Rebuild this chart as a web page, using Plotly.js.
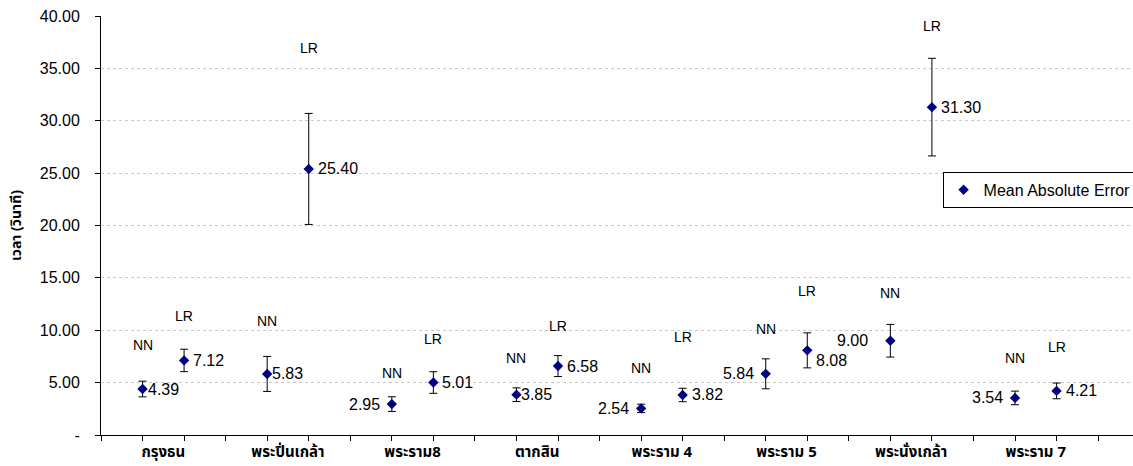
<!DOCTYPE html>
<html>
<head>
<meta charset="utf-8">
<script src="https://cdn.plot.ly/plotly-3.0.1.min.js"></script>
<style>html,body{margin:0;padding:0;background:#fff;}#chart{width:1133px;height:466px;}</style>
</head>
<body>
<div id="chart"></div>
<script>
// ---- data ----
const categories = ["กรุงธน", "พระปิ่นเกล้า", "พระราม8", "ตากสิน", "พระราม 4", "พระราม 5", "พระนั่งเกล้า", "พระราม 7"];
const methods = ["NN", "LR"];
const nnValues = [4.39, 5.83, 2.95, 3.85, 2.54, 5.84, 9.00, 3.54];
const lrValues = [7.12, 25.40, 5.01, 6.58, 3.82, 8.08, 31.30, 4.21];
const nnErrors = [0.75, 1.67, 0.70, 0.65, 0.40, 1.43, 1.56, 0.65];
const lrErrors = [1.07, 5.30, 1.03, 1.00, 0.64, 1.67, 4.66, 0.75];
const yTickValues = [0, 5, 10, 15, 20, 25, 30, 35, 40];
const yTickLabels = ["-", "5.00", "10.00", "15.00", "20.00", "25.00", "30.00", "35.00", "40.00"];
const seriesName = "Mean Absolute Error";
const yTitle = "เวลา (วินาที)";

// ---- layout helpers (positions/styles, not data) ----
const nnLabelY = [8.56, 10.91, 5.92, 7.35, 6.40, 10.12, 13.56, 7.38];
const lrLabelY = [11.36, 36.92, 9.16, 10.41, 9.36, 13.75, 39.05, 8.40];
const nnValueSide = [1, 1, -1, 1, -1, -1, -1, -1];
const lrValueSide = [1, 1, 1, 1, 1, 1, 1, 1];
const lrValueYShift = [0, 0, 0, 0, 0, -10, 0, 0];

const xs = [], ys = [], errs = [];
categories.forEach((c, i) => {
  xs.push(3 * i + 1, 3 * i + 2);
  ys.push(nnValues[i], lrValues[i]);
  errs.push(nnErrors[i], lrErrors[i]);
});

const numFont = "Liberation Sans, Arial, sans-serif";
const thaiFont = "Tahoma, 'Noto Sans Thai', 'DejaVu Sans', sans-serif";
const annotations = [];
categories.forEach((c, i) => {
  annotations.push({x: 3 * i + 1, y: nnLabelY[i], text: methods[0], showarrow: false,
    font: {family: numFont, size: 14, color: "#000"}, xanchor: "center", yanchor: "middle"});
  annotations.push({x: 3 * i + 2, y: lrLabelY[i], text: methods[1], showarrow: false,
    font: {family: numFont, size: 14, color: "#000"}, xanchor: "center", yanchor: "middle"});
  const nnS = nnValueSide[i];
  annotations.push({x: 3 * i + 1, y: nnValues[i], text: nnValues[i].toFixed(2), showarrow: false,
    font: {family: numFont, size: 16, color: "#000"},
    xanchor: nnS > 0 ? "left" : "right", yanchor: "middle",
    xshift: nnS > 0 ? 3 : (i === 6 ? -20 : -10)});
  const lrS = lrValueSide[i];
  annotations.push({x: 3 * i + 2, y: lrValues[i], text: lrValues[i].toFixed(2), showarrow: false,
    font: {family: numFont, size: 16, color: "#000"},
    xanchor: lrS > 0 ? "left" : "right", yanchor: "middle",
    xshift: lrS > 0 ? 7 : -10, yshift: lrValueYShift[i]});
});

const trace = {
  x: xs, y: ys, name: seriesName, type: "scatter", mode: "markers",
  marker: {symbol: "diamond", size: 8, color: "#000080"},
  error_y: {type: "data", array: errs, visible: true, color: "#000", thickness: 1, width: 4},
  showlegend: true
};

const layout = {
  width: 1133, height: 466,
  margin: {l: 101, r: 0, t: 16, b: 31, autoexpand: false},
  paper_bgcolor: "#fff", plot_bgcolor: "#fff",
  showlegend: true,
  legend: {x: 0.8155, y: 0.628, xanchor: "left", yanchor: "top",
    bgcolor: "#fff", bordercolor: "#000", borderwidth: 1,
    font: {family: numFont, size: 16, color: "#000"}, itemwidth: 30},
  xaxis: {
    range: [0, 24.84], showgrid: false, zeroline: false,
    showline: true, linecolor: "#000", linewidth: 1,
    tickmode: "array", tickvals: categories.map((c, i) => 3 * i + 1.5), ticktext: categories,
    ticks: "", ticklabelstandoff: 3,
    tickfont: {family: thaiFont, size: 15, color: "#000", weight: "bold"},
    minor: {tickmode: "linear", tick0: 0, dtick: 1, ticks: "outside", ticklen: 5, tickcolor: "#000", tickwidth: 1, showgrid: false},
    fixedrange: true
  },
  yaxis: {
    range: [0, 40], tickmode: "array", tickvals: yTickValues, ticktext: yTickLabels,
    showline: true, linecolor: "#000", linewidth: 1, zeroline: false,
    ticks: "outside", ticklen: 5, tickcolor: "#000", ticklabelstandoff: 12,
    showgrid: true, gridcolor: "#c8c8c8", griddash: "3px,3px", gridwidth: 1,
    tickfont: {family: numFont, size: 16, color: "#000"},
    title: {text: yTitle, standoff: 14,
      font: {family: thaiFont, size: 14, color: "#000", weight: "bold"}},
    fixedrange: true
  },
  annotations: annotations
};

Plotly.newPlot("chart", [trace], layout, {displayModeBar: false, staticPlot: true});
</script>
</body>
</html>
